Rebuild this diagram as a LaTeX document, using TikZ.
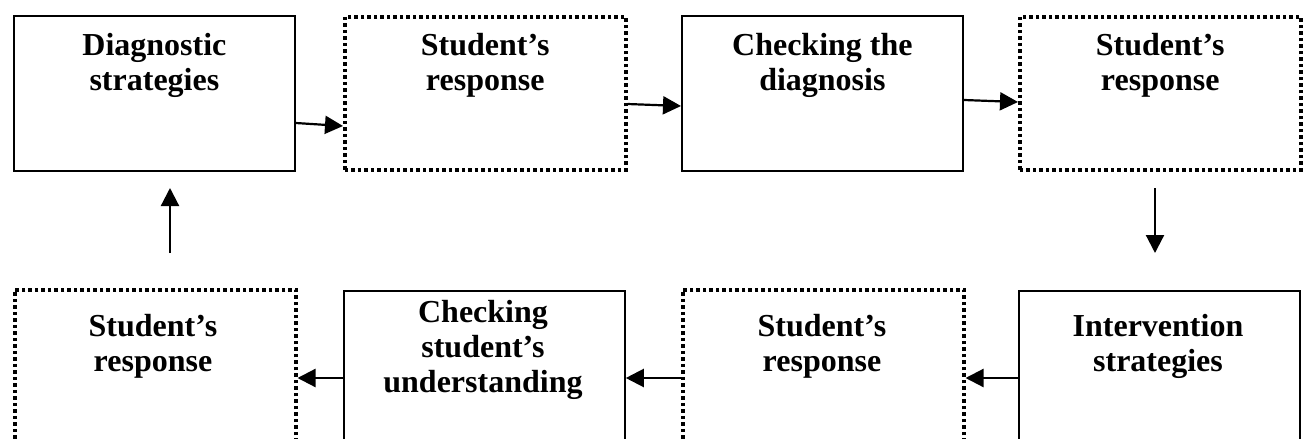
\documentclass[tikz,border=0pt]{standalone}
\usepackage{fontspec}
\setmainfont{Liberation Serif}
\usetikzlibrary{arrows.meta,calc}
\tikzset{
  box/.style={draw, line width=1.8pt, minimum width=281pt, anchor=north west, inner sep=0pt},
  dotbox/.style={box, line width=3.5pt, dash pattern=on 3.5pt off 3pt},
  lbl/.style={font=\fontsize{32}{35}\selectfont\bfseries, align=center, inner sep=0pt},
  arr/.style={line width=2.2pt, -{Triangle[length=18pt,width=18pt]}}
}
\begin{document}
\begin{tikzpicture}[x=1pt,y=-1pt]
\useasboundingbox (0,0) rectangle (1307,439);
\clip (0,0) rectangle (1307,439);
% top row
\node[box, minimum height=155pt] (b1) at (13,15) {};
\node[dotbox, minimum height=153pt] (b2) at (343,15) {};
\node[box, minimum height=155pt] (b3) at (681,15) {};
\node[dotbox, minimum height=153pt] (b4) at (1018,15) {};
% bottom row
\node[dotbox, minimum height=170pt] (c1) at (13,288) {};
\node[box, minimum height=170pt] (c2) at (343,290) {};
\node[dotbox, minimum height=170pt] (c3) at (681,288) {};
\node[box, minimum height=170pt] (c4) at (1018,290) {};
% labels
\node[lbl, anchor=north] (t1) at ($(b1.north)+(0,18)$) {Diagnostic\\strategies};
\node[lbl, anchor=north] (t2) at ($(b2.north)+(0,18)$) {Student’s\\response};
\node[lbl, anchor=north] (t3) at ($(b3.north)+(0,18)$) {Checking the\\diagnosis};
\node[lbl, anchor=north] (t4) at ($(b4.north)+(0,18)$) {Student’s\\response};
\node[lbl] (u1) at (153,346) {Student’s\\response};
\node[lbl] (u2) at (483,350) {Checking\\student’s\\understanding};
\node[lbl] (u3) at (822,346) {Student’s\\response};
\node[lbl] (u4) at (1158,346) {Intervention\\strategies};
% arrows
\draw[arr] ($(b1.north east)+(0,108)$) -- ($(b2.north west)+(0,111)$);
\draw[arr] ($(b2.north east)+(0,89)$) -- ($(b3.north west)+(0,91)$);
\draw[arr] ($(b3.north east)+(0,85)$) -- ($(b4.north west)+(0,87)$);
\coordinate (d1) at (1155,188);
\coordinate (d2) at (1155,253);
\draw[arr] (d1) -- (d2);
\draw[arr] ($(c4.north west)+(0,88)$) -- ($(c3.north east)+(0,90)$);
\draw[arr] ($(c3.north west)+(0,90)$) -- ($(c2.north east)+(0,88)$);
\draw[arr] ($(c2.north west)+(0,88)$) -- ($(c1.north east)+(0,90)$);
\coordinate (e1) at (170,253);
\coordinate (e2) at (170,188);
\draw[arr] (e1) -- (e2);
\end{tikzpicture}
\end{document}
